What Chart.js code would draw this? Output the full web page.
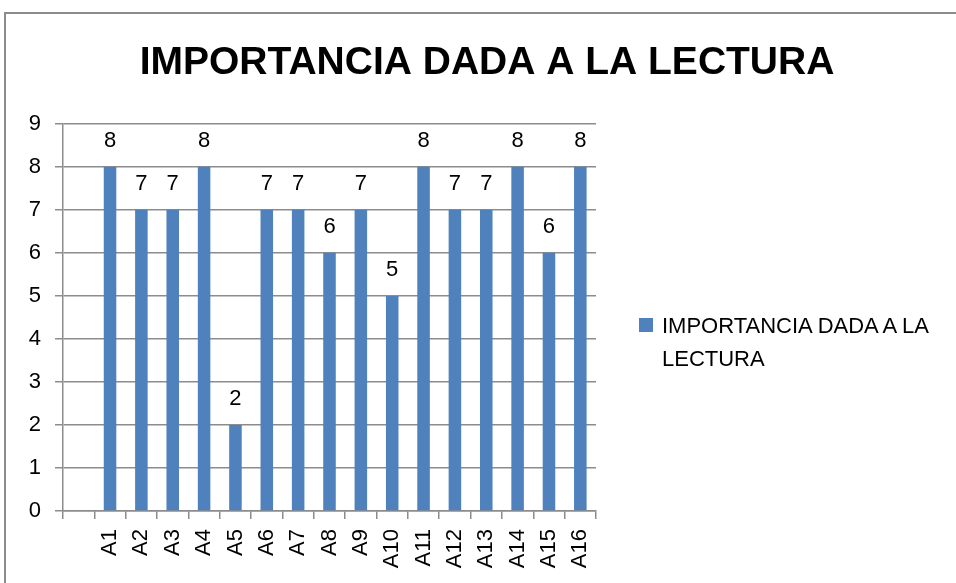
<!DOCTYPE html>
<html>
<head>
<meta charset="utf-8">
<script src="https://cdn.jsdelivr.net/npm/chart.js@4/dist/chart.umd.min.js"></script>
<style>
  html, body { margin: 0; padding: 0; background: #fff; }
  #frame { position: absolute; left: 4px; top: 12px; width: 960px; height: 580px;
           border-left: 2px solid #8c8c8c; border-top: 2px solid #8c8c8c; }
  #wrap { position: absolute; left: 0; top: 0; width: 956px; height: 583px; }
  #legend { position: absolute; left: 639px; top: 309px; font-family: 'Liberation Sans', Arial, sans-serif;
            font-size: 22px; line-height: 33px; color: #000; }
  #legend .box { position: absolute; left: 0; top: 9px; width: 14px; height: 14px; }
  #legend .txt { position: absolute; left: 23px; top: 0; width: 290px; }
</style>
</head>
<body>
<div id="frame"></div>
<div id="wrap"><canvas id="chart" width="956" height="583"></canvas></div>
<div id="legend"></div>
<script>
// first category is blank in the original sheet
var categorias = ['', 'A1', 'A2', 'A3', 'A4', 'A5', 'A6', 'A7', 'A8', 'A9', 'A10', 'A11', 'A12', 'A13', 'A14', 'A15', 'A16'];
var importancia = [null, 8, 7, 7, 8, 2, 7, 7, 6, 7, 5, 8, 7, 7, 8, 6, 8];
var yTicks = [0, 1, 2, 3, 4, 5, 6, 7, 8, 9];
var titulo = 'IMPORTANCIA DADA A LA LECTURA';
var serie = 'IMPORTANCIA DADA A LA LECTURA';

var azul = '#4F81BD';
var gris = '#8c8c8c';
var fuente = "'Liberation Sans', Arial, sans-serif";

// value labels over each bar
var etiquetas = {
    id: 'etiquetas',
    afterDatasetsDraw: function (chart) {
        var ctx = chart.ctx;
        var meta = chart.getDatasetMeta(0);
        ctx.save();
        ctx.font = '22px ' + fuente;
        ctx.fillStyle = '#000';
        ctx.textAlign = 'center';
        ctx.textBaseline = 'middle';
        meta.data.forEach(function (bar, i) {
            var v = chart.data.datasets[0].data[i];
            if (v === null) return;
            ctx.fillText(String(v), bar.x, bar.y - 26);
        });
        ctx.restore();
    }
};

var canvas = document.getElementById('chart').getContext('2d');
var chart = new Chart(canvas, {
    type: 'bar',
    data: {
        labels: categorias,
        datasets: [{
            label: serie,
            data: importancia,
            backgroundColor: azul,
            borderWidth: 0,
            barPercentage: 0.4,
            categoryPercentage: 1.0
        }]
    },
    options: {
        responsive: false,
        animation: false,
        layout: { padding: { left: 18, right: 0, top: 0, bottom: 0 } },
        plugins: {
            legend: { display: false },
            tooltip: { enabled: false },
            title: {
                display: true,
                text: titulo,
                color: '#000',
                font: { family: fuente, size: 39, weight: 'bold', lineHeight: 1.2 },
                padding: { top: 40, bottom: 37 }
            }
        },
        scales: {
            x: {
                grid: { offset: true, drawOnChartArea: false, tickLength: 8, color: gris, lineWidth: 1.5 },
                border: { display: true, color: gris, width: 1.5 },
                ticks: { color: '#000', font: { family: fuente, size: 22 }, minRotation: 90, maxRotation: 90, padding: 10, autoSkip: false },
                afterFit: function (s) { s.height = 72; }
            },
            y: {
                min: 0,
                max: 9,
                afterBuildTicks: function (s) { s.ticks = yTicks.map(function (v) { return { value: v }; }); },
                grid: { color: gris, lineWidth: 1.5, tickLength: 8 },
                border: { display: true, color: gris, width: 1.5 },
                ticks: { color: '#000', font: { family: fuente, size: 22 }, padding: 14 },
                afterFit: function (s) { s.width = 45; }
            },
            espacio: {
                position: 'right',
                display: true,
                grid: { display: false },
                border: { display: false },
                ticks: { display: false },
                afterFit: function (s) { s.width = 360; }
            }
        }
    },
    plugins: [etiquetas]
});

// html legend built from the dataset
var ds = chart.data.datasets[0];
document.getElementById('legend').innerHTML =
    '<span class="box" style="background:' + ds.backgroundColor + '"></span>' +
    '<span class="txt">' + ds.label + '</span>';
</script>
</body>
</html>
